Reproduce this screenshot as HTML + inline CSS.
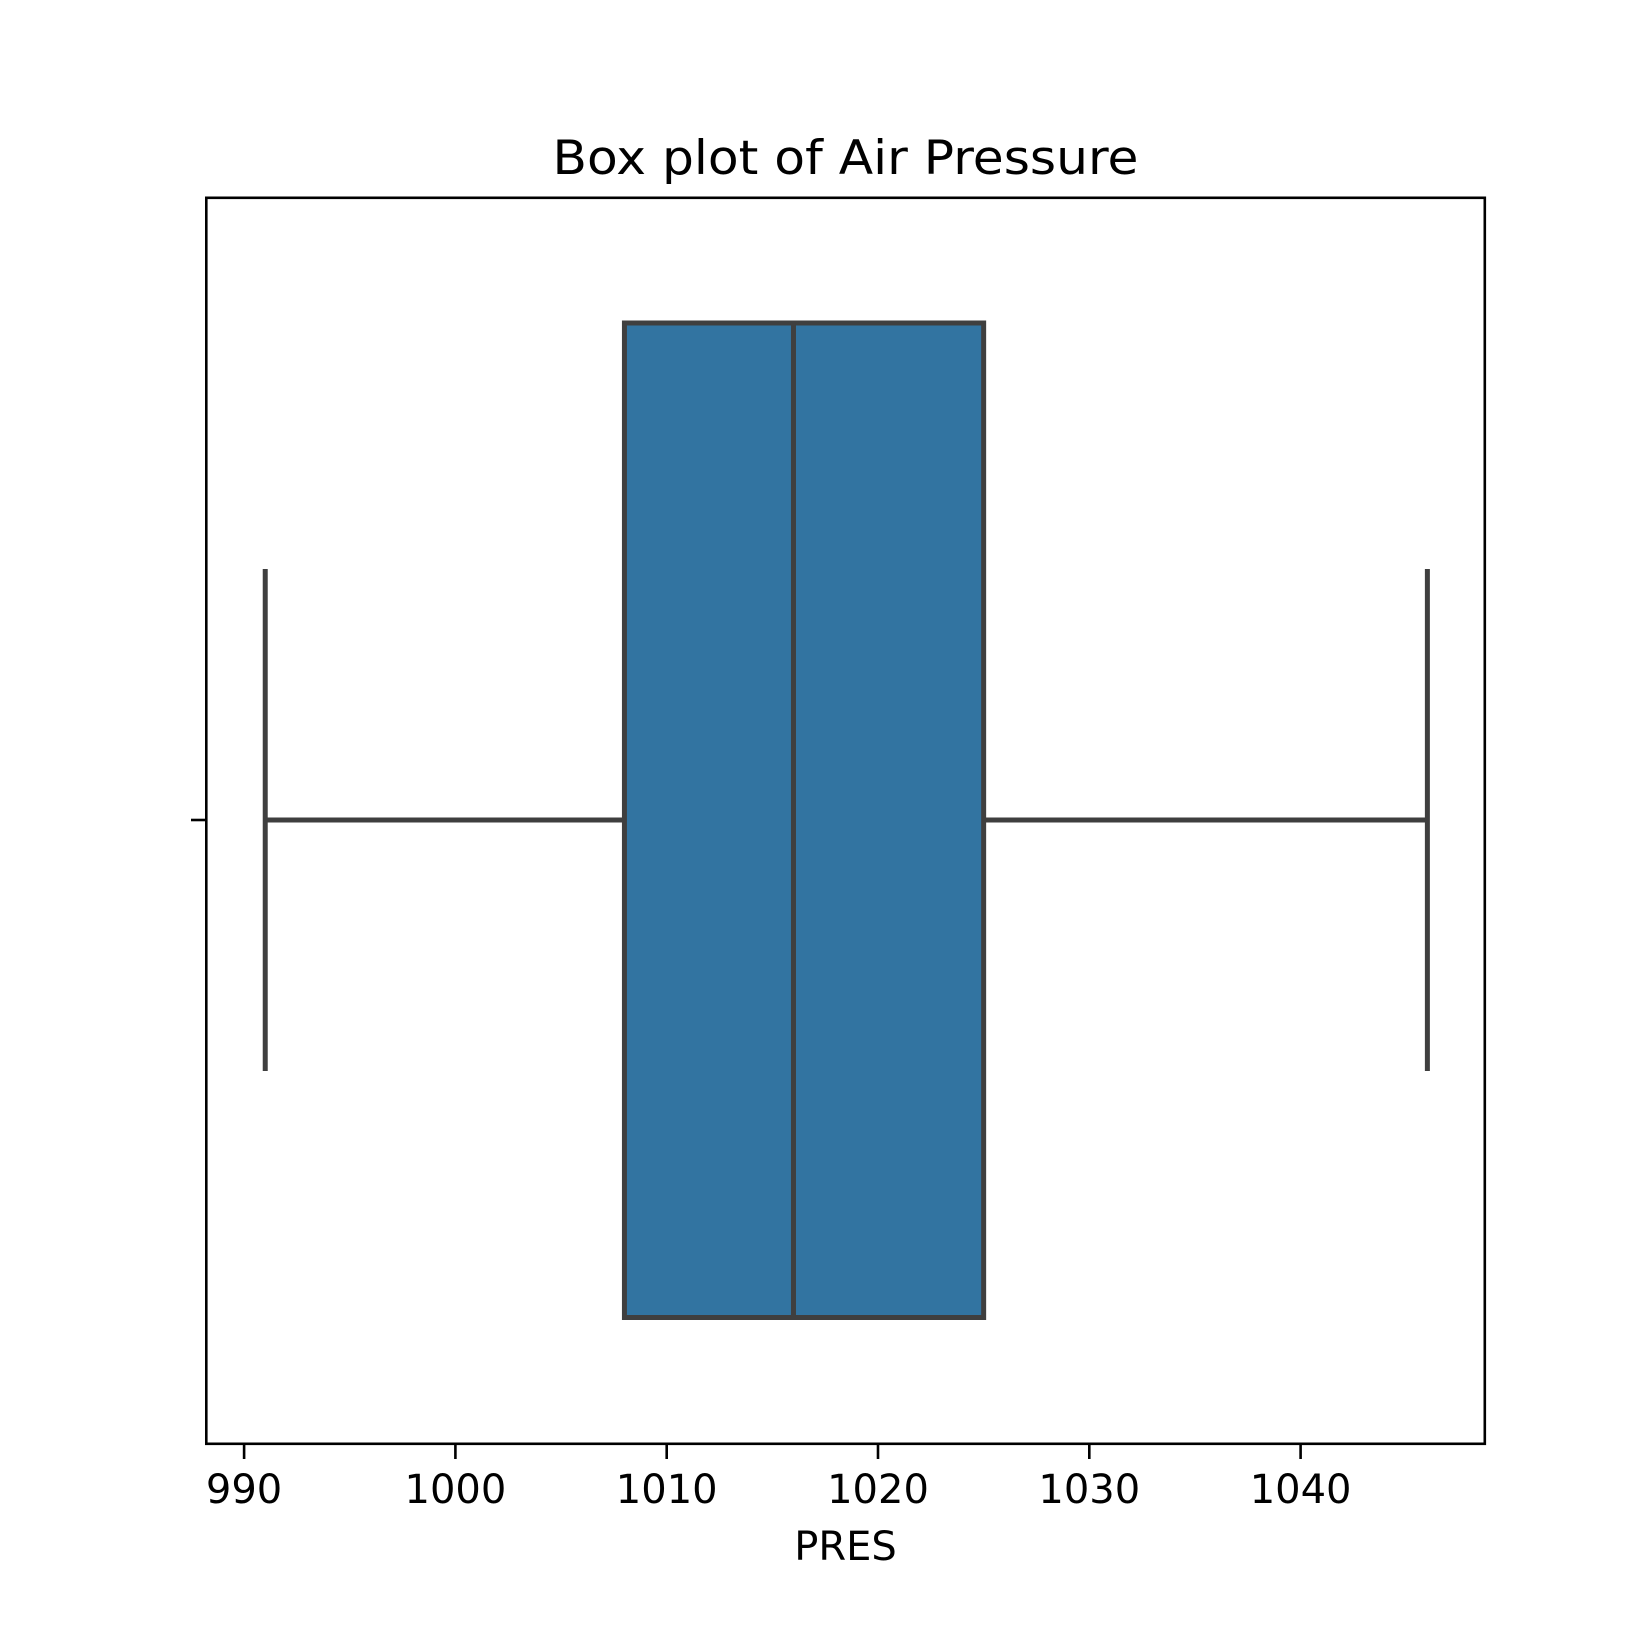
<!DOCTYPE html>
<html><head><meta charset="utf-8"><style>html,body{margin:0;padding:0;background:#fff}svg{display:block}</style></head>
<body>
<svg id="chart" width="1650" height="1650" viewBox="0 0 1650 1650" xmlns="http://www.w3.org/2000/svg" font-family="'DejaVu Sans','Liberation Sans',sans-serif">
<rect width="1650" height="1650" fill="#fff"/>
<text x="845.5" y="174" font-size="47" text-anchor="middle" textLength="586" lengthAdjust="spacingAndGlyphs">Box plot of Air Pressure</text>
<g id="plot"></g>
<rect x="206.3" y="197.8" width="1278.5" height="1246" fill="none" stroke="#000" stroke-width="2.6"/>
<line x1="191" y1="820" x2="206.3" y2="820" stroke="#000" stroke-width="2.6"/>
<text x="845.5" y="1560" font-size="40" text-anchor="middle">PRES</text>
</svg>
<script>
const ticks = [990, 1000, 1010, 1020, 1030, 1040];
const stats = {whiskerLow: 991, q1: 1008, median: 1016, q3: 1025, whiskerHigh: 1046};
const whiskerLow = [991];
const q1 = [1008];
const median = [1016];
const q3 = [1025];
const whiskerHigh = [1046];

const NS = 'http://www.w3.org/2000/svg';
const x = v => 244.1 + (v - 990) * 21.13;
const g = document.getElementById('plot');
const svg = document.getElementById('chart');
function mk(tag, attrs, parent) {
  const e = document.createElementNS(NS, tag);
  for (const k in attrs) e.setAttribute(k, attrs[k]);
  (parent || g).appendChild(e);
  return e;
}
const cy = 820, boxTop = 323, boxBot = 1317.5, capTop = 569, capBot = 1071;
const stroke = '#3f3f3f', sw = 5;
let el;
el = mk('line', {x1: x(whiskerLow[0]), y1: cy, x2: x(q1[0]), y2: cy, stroke, 'stroke-width': sw});


el = mk('line', {x1: x(q3[0]), y1: cy, x2: x(whiskerHigh[0]), y2: cy, stroke, 'stroke-width': sw});


el = mk('line', {x1: x(whiskerLow[0]), y1: capTop, x2: x(whiskerLow[0]), y2: capBot, stroke, 'stroke-width': sw});


el = mk('line', {x1: x(whiskerHigh[0]), y1: capTop, x2: x(whiskerHigh[0]), y2: capBot, stroke, 'stroke-width': sw});


el = mk('rect', {x: x(q1[0]), y: boxTop, width: x(q3[0]) - x(q1[0]), height: boxBot - boxTop, fill: '#3274a1', stroke, 'stroke-width': sw});


el = mk('line', {x1: x(median[0]), y1: boxTop, x2: x(median[0]), y2: boxBot, stroke, 'stroke-width': sw});


ticks.forEach(t => {
  const tl = mk('line', {x1: x(t), y1: 1443.8, x2: x(t), y2: 1459, stroke: '#000', 'stroke-width': 2.6}, svg);
  
  
  const tx = mk('text', {x: x(t), y: 1503, 'font-size': 40, 'text-anchor': 'middle'}, svg);
  tx.textContent = String(t);
  
  
});
</script>
</body></html>
